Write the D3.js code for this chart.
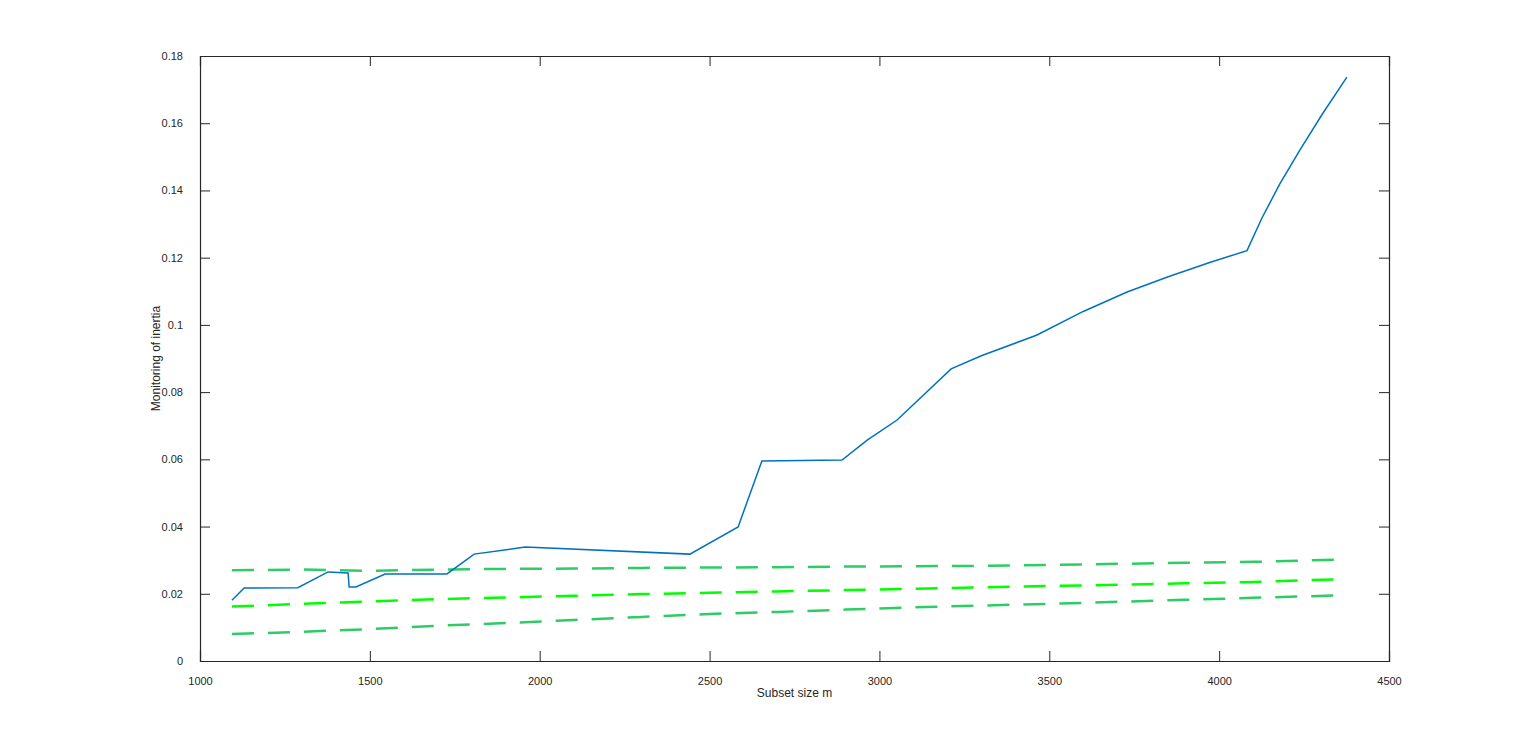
<!DOCTYPE html>
<html>
<head>
<meta charset="utf-8">
<script src="https://cdn.jsdelivr.net/npm/d3@7"></script>
<style>
  body { margin: 0; background: #fff; }
  svg { display: block; }
  text { font-family: "Liberation Sans", Arial, sans-serif; fill: #262626; }
</style>
</head>
<body>
<svg width="1536" height="744"></svg>
<script>
// blue line: monitored inertia
var mainX = [1094, 1130, 1288, 1377, 1436, 1439, 1459, 1545, 1727, 1807, 1957, 2442, 2584, 2654, 2890,
  2964, 3052, 3211, 3300, 3464, 3600, 3729, 3850, 3970, 4082, 4126, 4179, 4238, 4303, 4376];
var mainY = [0.0181, 0.0217, 0.0218, 0.0265, 0.0262, 0.0220, 0.0220, 0.0259, 0.0259, 0.0318, 0.0339, 0.0318, 0.0399, 0.0595, 0.0598,
  0.0657, 0.0717, 0.0869, 0.0908, 0.0970, 0.1040, 0.1098, 0.1143, 0.1185, 0.1221, 0.1318, 0.1420, 0.1521, 0.1626, 0.1737];

// envelope bands (dashed)
var bandX = [1094, 1300, 1500, 1700, 1900, 2100, 2300, 2500, 2700, 2900, 3100, 3300, 3500, 3700, 3900, 4100, 4374];
var upperY = [0.0270, 0.0272, 0.0268, 0.0272, 0.0274, 0.0275, 0.0277, 0.0278, 0.0279, 0.0281, 0.0282, 0.0283, 0.0286, 0.0289, 0.0292, 0.0295, 0.0302];
var middleY = [0.0162, 0.0170, 0.0177, 0.0184, 0.0189, 0.0194, 0.0199, 0.0203, 0.0207, 0.0211, 0.0215, 0.0219, 0.0223, 0.0227, 0.0231, 0.0235, 0.0244];
var lowerY = [0.0080, 0.0087, 0.0095, 0.0105, 0.0113, 0.0122, 0.0131, 0.0140, 0.0146, 0.0153, 0.0160, 0.0165, 0.0170, 0.0176, 0.0182, 0.0188, 0.0196];

var xTicks = [1000, 1500, 2000, 2500, 3000, 3500, 4000, 4500];
var yTicks = [0, 0.02, 0.04, 0.06, 0.08, 0.1, 0.12, 0.14, 0.16, 0.18];

var svg = d3.select("svg"),
  margin = {top: 56, right: 147, bottom: 83, left: 200},
  width = svg.attr("width") - margin.left - margin.right,
  height = svg.attr("height") - margin.top - margin.bottom,
  g = svg.append("g").attr("transform", "translate(" + margin.left + "," + margin.top + ")");

var x = d3.scaleLinear().domain([1000, 4500]).range([0, width]),
  y = d3.scaleLinear().domain([0, 0.18]).range([height, 0]);

var line = d3.line()
  .x(function(d) { return x(d[0]); })
  .y(function(d) { return y(d[1]); });

function pairs(xs, ys) { return xs.map(function(v, i) { return [v, ys[i]]; }); }

var bands = [
  {values: pairs(bandX, upperY), color: "#2ecc66"},
  {values: pairs(bandX, middleY), color: "#00ff00"},
  {values: pairs(bandX, lowerY), color: "#2ecc66"}
];

g.selectAll(".band")
  .data(bands)
  .enter().append("path")
  .attr("class", "band")
  .attr("d", function(d) { return line(d.values); })
  .attr("fill", "none")
  .attr("stroke", function(d) { return d.color; })
  .attr("stroke-width", 2.5)
  .attr("stroke-dasharray", "22,14");

g.append("path")
  .attr("d", line(pairs(mainX, mainY)))
  .attr("fill", "none")
  .attr("stroke", "#0072bd")
  .attr("stroke-width", 1.5);

// axes (box with inward ticks, MATLAB style)
var tickLen = 10;
var fmtY = function(d) { return d === 0 ? "0" : String(+d.toFixed(2)); };

var axB = g.append("g").attr("transform", "translate(0," + height + ")")
  .call(d3.axisBottom(x).tickValues(xTicks).tickSize(-tickLen).tickPadding(tickLen + 6).tickFormat(d3.format("d")));
var axT = g.append("g")
  .call(d3.axisTop(x).tickValues(xTicks).tickSize(-tickLen).tickFormat(""));
var axL = g.append("g")
  .call(d3.axisLeft(y).tickValues(yTicks).tickSize(-tickLen).tickPadding(tickLen + 7).tickFormat(fmtY));
var axR = g.append("g").attr("transform", "translate(" + width + ",0)")
  .call(d3.axisRight(y).tickValues(yTicks).tickSize(-tickLen).tickFormat(""));

[axB, axT, axL, axR].forEach(function(a) {
  a.select(".domain").attr("stroke", "#262626").attr("stroke-width", 1.2);
  a.selectAll(".tick line").attr("stroke", "#262626");
  a.selectAll("text").style("font-size", "11px").attr("fill", "#262626");
});

g.append("text")
  .attr("x", width / 2)
  .attr("y", height + 36)
  .attr("text-anchor", "middle")
  .style("font-size", "12px")
  .text("Subset size m");

g.append("text")
  .attr("transform", "rotate(-90)")
  .attr("x", -height / 2)
  .attr("y", -40)
  .attr("text-anchor", "middle")
  .style("font-size", "12px")
  .text("Monitoring of inertia");
</script>
</body>
</html>
